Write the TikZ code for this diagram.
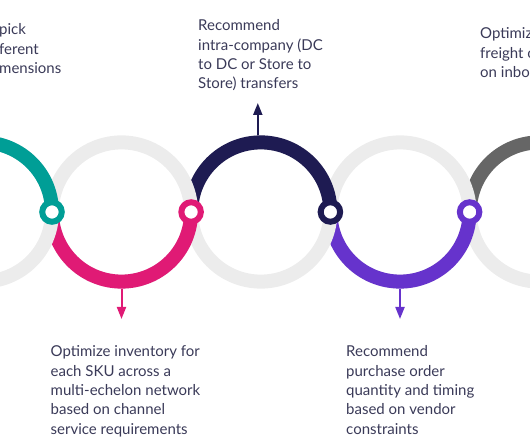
\documentclass[tikz,border=0pt]{standalone}
\usepackage{fontspec}
\setmainfont{Lato}
\usetikzlibrary{arrows.meta}
\definecolor{tealc}{RGB}{0,158,150}
\definecolor{pinkc}{RGB}{224,26,117}
\definecolor{navyc}{RGB}{30,27,82}
\definecolor{purpc}{RGB}{102,51,204}
\definecolor{dgrey}{RGB}{102,102,102}
\definecolor{lgrey}{RGB}{236,236,236}
\definecolor{txt}{RGB}{58,58,88}
\tikzset{
  hoop/.style={line width=14pt, line cap=butt},
  ring/.style={circle, draw, line width=6pt, fill=white, minimum size=19.5pt, inner sep=0pt},
  note/.style={anchor=north west, align=left, inner sep=0pt, text=txt,
    font=\fontsize{15}{19.4}\selectfont},
  pointer/.style={line width=2pt, -{Triangle[width=9pt,length=12pt]}},
}
\begin{document}
\begin{tikzpicture}[x=1pt, y=1pt]
\useasboundingbox (0,0) rectangle (530,442);
\clip (0,0) rectangle (530,442);
% centres of the loops
\coordinate (c1) at (-17.6,230);
\coordinate (c2) at (121.5,230);
\coordinate (c3) at (260.8,230);
\coordinate (c4) at (400,230);
\coordinate (c5) at (539.4,230);
% loops, right to left so each one lies over the next
\draw[hoop, lgrey] (c5) circle (69.6);
\draw[hoop, dgrey] ([shift={(180:69.6)}]c5) arc[start angle=180, end angle=0, radius=69.6];
\draw[hoop, lgrey] (c4) circle (69.6);
\draw[hoop, purpc] ([shift={(180:69.6)}]c4) arc[start angle=180, end angle=360, radius=69.6];
\draw[hoop, lgrey] (c3) circle (69.6);
\draw[hoop, navyc] ([shift={(180:69.6)}]c3) arc[start angle=180, end angle=0, radius=69.6];
\draw[hoop, lgrey] (c2) circle (69.6);
\draw[hoop, pinkc] ([shift={(180:69.6)}]c2) arc[start angle=180, end angle=360, radius=69.6];
\draw[hoop, lgrey] (c1) circle (69.6);
\draw[hoop, tealc] ([shift={(180:69.6)}]c1) arc[start angle=180, end angle=0, radius=69.6];
% pointers
\path (c3) ++(-3,76.6) coordinate (p3a) ++(0,32.4) coordinate (p3b);
\path (c2) ++(0,-76.6) coordinate (p2a) ++(0,-30.4) coordinate (p2b);
\path (c4) ++(0,-76.6) coordinate (p4a) ++(0,-30.4) coordinate (p4b);
\draw[pointer, navyc] (p3a) -- (p3b);
\draw[pointer, pinkc] (p2a) -- (p2b);
\draw[pointer, purpc] (p4a) -- (p4b);
% rings where the loops meet
\node[ring, draw=tealc] (r1) at ([xshift=69.6pt]c1) {};
\node[ring, draw=pinkc] (r2) at ([xshift=69.6pt]c2) {};
\node[ring, draw=navyc] (r3) at ([xshift=69.6pt]c3) {};
\node[ring, draw=purpc] (r4) at ([xshift=69.6pt]c4) {};
% texts
\node[note] (t1) at (-1,418.5) {pick\\ferent\\mensions};
\node[note] (t2) at (50.5,96.5) {Optimize inventory for\\each SKU across a\\multi-echelon network\\based on channel\\service requirements};
\node[note] (t3) at (198,422.5) {Recommend\\intra-company (DC\\to DC or Store to\\Store) transfers};
\node[note] (t4) at (346,96.5) {Recommend\\purchase order\\quantity and timing\\based on vendor\\constraints};
\node[note] (t5) at (480,414.5) {Optimize\\freight c\\on inbou};
\end{tikzpicture}
\end{document}
